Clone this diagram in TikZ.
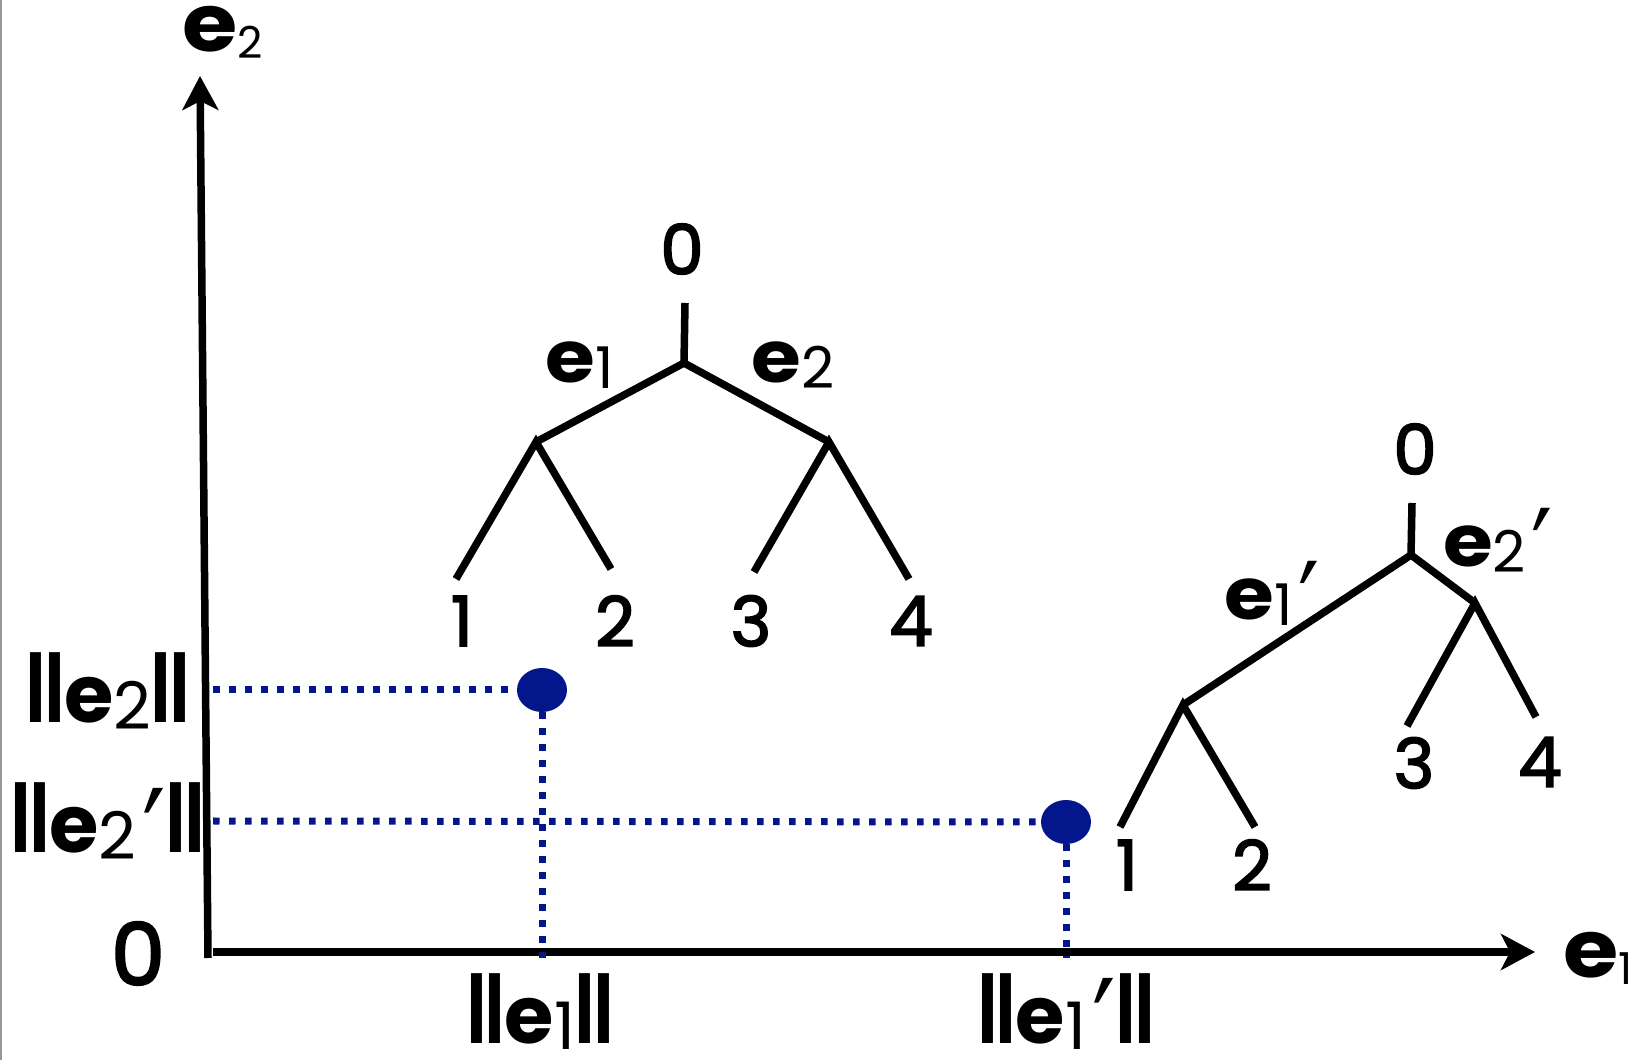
\documentclass[tikz,border=0pt]{standalone}
\usepackage{fontspec}
\setmainfont{Poppins}
\newfontfamily\numfont{Poppins}[UprightFeatures={FakeBold=2.5}]
\newfontfamily\symfont{DejaVu Sans}
\usetikzlibrary{arrows.meta,shapes.geometric}
\definecolor{navy}{RGB}{4,22,140}
% bold e with a plain, lowered index
\newcommand{\ev}[3]{\scalebox{1.12}[1]{\textbf{e}}\raisebox{#3}{\scalebox{#2}{#1}}}
\newcommand{\evn}[3]{\textbf{e}\raisebox{#3}{\scalebox{#2}{#1}}}
\newcommand{\prm}{\kern.08em\raisebox{-.43em}[.86em][0pt]{\scalebox{1.3}[1.7]{\symfont\char"2032}}}
\newcommand{\bars}{\scalebox{0.8}[1.18]{\textbf{ll}}}
\newcommand{\nrm}[1]{\bars#1\bars}
\begin{document}
\begin{tikzpicture}[x=1pt,y=1pt,
		branch/.style={line width=7.5pt},
		axisline/.style={line width=7.5pt,-{Stealth[length=34pt,width=36pt,inset=9pt]}},
		guide/.style={navy,line width=7pt,dash pattern=on 6.5pt off 9.5pt},
		dotmark/.style={ellipse,fill=navy,minimum width=50pt,minimum height=44pt,inner sep=0pt},
		digit/.style={inner sep=0pt,font=\numfont\fontsize{69}{69}\selectfont},
		elabel/.style={inner sep=0pt,anchor=base,font=\fontsize{72}{72}\selectfont},
		axlabel/.style={inner sep=0pt,font=\fontsize{80}{80}\selectfont},
		normlabel/.style={inner sep=0pt,anchor=base,font=\fontsize{80}{80}\selectfont}]
	\useasboundingbox (0,0) rectangle (1632,1060);
	% Frame edge
	\coordinate (E1) at (1,0);
	\coordinate (E2) at (1,1060);
	\draw[gray!80,line width=1.5pt] (E1) -- (E2);
	
	% Axes
	\coordinate (Ybot) at (208,102);
	\coordinate (Ytip) at (200,984);
	\coordinate (Xbot) at (213,108);
	\coordinate (Xtip) at (1535,108);
	\draw[axisline] (Ybot) -- (Ytip);
	\draw[axisline] (Xbot) -- (Xtip);
	
	% Tree 1
	\coordinate (S1) at (685,757);
	\coordinate (R1) at (684,697);
	\coordinate (A1) at (536,618);
	\coordinate (B1) at (829,618);
	\coordinate (L1) at (456,481);
	\coordinate (L2) at (611,491);
	\coordinate (L3) at (754,488);
	\coordinate (L4) at (909,481);
	\draw[branch] (S1) -- (R1);
	\draw[branch] (A1) -- (R1) -- (B1);
	\draw[branch] (L1) -- (A1) -- (L2);
	\draw[branch] (L3) -- (B1) -- (L4);
	
	% Tree 2
	\coordinate (S2) at (1412,557);
	\coordinate (R2) at (1411,505);
	\coordinate (A2) at (1183,355);
	\coordinate (B2) at (1475,457);
	\coordinate (M1) at (1120,233);
	\coordinate (M2) at (1255,233);
	\coordinate (M3) at (1407,334);
	\coordinate (M4) at (1536,343);
	\draw[branch] (S2) -- (R2);
	\draw[branch] (A2) -- (R2) -- (B2);
	\draw[branch] (M1) -- (A2) -- (M2);
	\draw[branch] (M3) -- (B2) -- (M4);
	
	% Labels
	\node[axlabel,anchor=base] (ax2) at (223,1008) {\ev{2}{0.55}{-7pt}};
	\node[axlabel,anchor=base west] (ax1) at (1563,83) {\ev{1}{0.55}{-7pt}};
	\node[inner sep=0pt,anchor=base,font=\numfont\fontsize{86}{86}\selectfont] (orig) at (138,75) {0};
	
	\node[digit] (top1) at (682,811) {0};
	\node[digit] (d1) at (462,439) {1};
	\node[digit] (d2) at (615,439) {2};
	\node[digit] (d3) at (751,439) {3};
	\node[digit] (d4) at (911,439) {4};
	\node[elabel] (ea) at (580,677) {\ev{1}{0.8}{-6pt}};
	\node[elabel] (eb) at (793,677) {\ev{2}{0.8}{-6pt}};
	
	\node[digit] (top2) at (1415,611) {0};
	\node[digit] (f1) at (1127,195) {1};
	\node[digit] (f2) at (1252,195) {2};
	\node[digit] (f3) at (1414,297) {3};
	\node[digit] (f4) at (1540,298) {4};
	\node[elabel] (ec) at (1272,440) {\ev{1}{0.8}{-6pt}\prm};
	\node[elabel] (ed) at (1498,493) {\ev{2}{0.8}{-6pt}\prm};
	
	\node[normlabel] (nb) at (108,337) {\nrm{\evn{2}{0.82}{-7pt}}};
	\node[normlabel] (nbp) at (108,207) {\nrm{\evn{2}{0.82}{-7pt}\prm}};
	\node[normlabel] (na) at (540,17) {\nrm{\evn{1}{0.82}{-6pt}}};
	\node[normlabel] (nap) at (1066,17) {\nrm{\evn{1}{0.82}{-6pt}\prm}};
	
	% Points
	\node[dotmark] (P1) at (542,370) {};
	\node[dotmark] (P2) at (1066,238) {};
	\coordinate (H1) at (213,370);
	\coordinate (H2) at (213,239);
	\draw[guide] (H1) -- (P1.west);
	\draw[guide] (H2) -- (P2.west);
	\draw[guide] (P1.south) -- (P1.south |- Ybot);
	\draw[guide] (P2.south) -- (P2.south |- Ybot);
\end{tikzpicture}
\end{document}
